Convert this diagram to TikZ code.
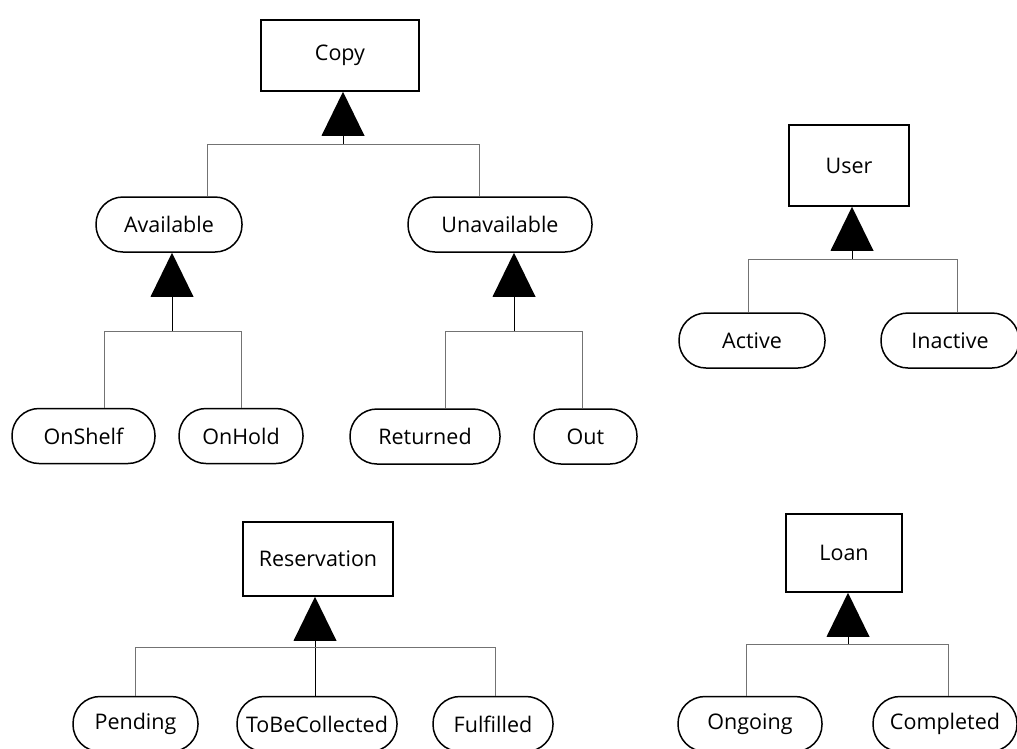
\documentclass[tikz,border=0pt]{standalone}
\usepackage{fontspec}
\setmainfont{Open Sans}
\usetikzlibrary{positioning}

\begin{document}
\begin{tikzpicture}[x=1pt, y=-1pt,
    font=\fontsize{21.5}{25}\selectfont,
    classbox/.style={draw, line width=1.5pt, inner sep=0pt},
    substate/.style={draw, line width=1.5pt, rounded corners=27pt, minimum height=55pt, inner sep=0pt},
    link/.style={draw=black!55, line width=1pt},
    stem/.style={draw=black, line width=1pt}]
    \useasboundingbox (0,0) rectangle (1017,748);

    % draw class boxes
    \node[classbox, minimum width=158pt, minimum height=71pt] (copy) at (340,55.5) {Copy};
    \node[classbox, minimum width=120pt, minimum height=81pt] (user) at (849,165.5) {User};
    \node[classbox, minimum width=150pt, minimum height=74pt] (reserv) at (318,559) {Reservation};
    \node[classbox, minimum width=116pt, minimum height=78pt] (loan) at (844,553) {Loan};

    % draw states
    \node[substate, minimum width=146pt] (avail) at (169,224.5) {Available};
    \node[substate, minimum width=184pt] (unavail) at (500,224.5) {Unavailable};
    \node[substate, minimum width=143pt] (onshelf) at (83.5,436) {OnShelf};
    \node[substate, minimum width=124pt] (onhold) at (241,436) {OnHold};
    \node[substate, minimum width=150pt] (returned) at (425,436.5) {Returned};
    \node[substate, minimum width=103pt] (out) at (585.5,436.5) {Out};
    \node[substate, minimum width=146pt] (active) at (752,340.5) {Active};
    \node[substate, minimum width=138pt] (inactive) at (950,340.5) {Inactive};
    \node[substate, minimum width=125pt] (pending) at (135.5,724) {Pending};
    \node[substate, minimum width=160pt] (tobe) at (317,724) {ToBeCollected};
    \node[substate, minimum width=120pt] (fulfilled) at (493,724) {Fulfilled};
    \node[substate, minimum width=144pt] (ongoing) at (750,724) {Ongoing};
    \node[substate, minimum width=144pt] (completed) at (945,724) {Completed};

    % draw triangles and stems
    \foreach \tip/\dx/\dy in {copy/3/53, avail/3/79, unavail/14/79, user/3/53, reserv/-3/51, loan/4/52}
    {
      \fill ([xshift=\dx pt]\tip.south) -- ++(-21.5,44) -- ++(43,0) -- cycle;
      \coordinate (\tip-j) at ([xshift=\dx pt, yshift=-\dy pt]\tip.south);
      \draw[stem] ([xshift=\dx pt, yshift=-44pt]\tip.south) -- (\tip-j);
    }

    % draw connectors
    \foreach \child/\dx/\parent in {avail/38/copy, unavail/-21/copy, onshelf/20.5/avail, onhold/0/avail,
        returned/20/unavail, out/-3.5/unavail, active/-4/user, inactive/7/user,
        pending/-0.5/reserv, fulfilled/2/reserv, ongoing/-4/loan, completed/3/loan}
      \draw[link] ([xshift=\dx pt]\child.north) |- (\parent-j);
    \draw[stem] (reserv-j) -- (reserv-j |- tobe.north);
\end{tikzpicture}
\end{document}
